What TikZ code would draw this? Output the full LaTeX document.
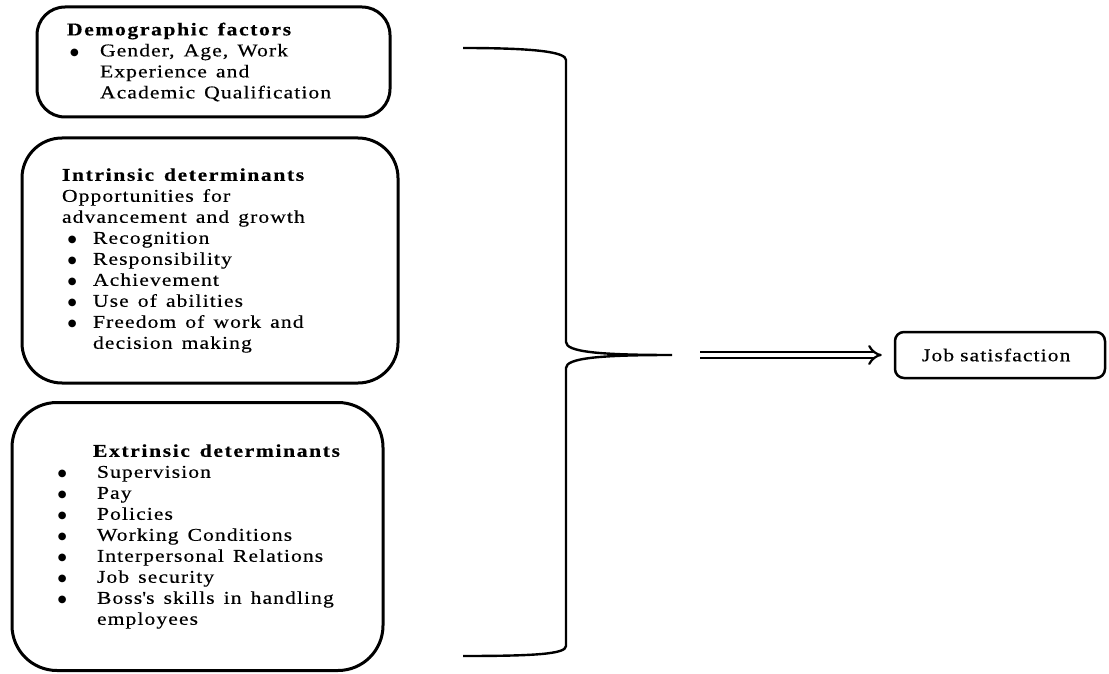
\documentclass[tikz,border=0pt]{standalone}
\usepackage{fontspec}
\setmainfont{Liberation Serif}[FakeStretch=1.2,LetterSpace=6,WordSpace=1.4,FakeBold=0.4]
\newfontfamily\dotfont{DejaVu Sans}
\usetikzlibrary{arrows.meta,positioning,calc}

% bullet line: bullet offset, text offset, text
\newcommand{\bitem}[3]{\par\noindent\hangindent=#2\hangafter=1%
  \hspace*{#1}\makebox[\dimexpr#2-#1\relax][l]{\raisebox{1pt}{\dotfont\fontsize{10}{12}\selectfont\symbol{"25CF}}}#3}
% left padding and width of a box's text block
\newcommand{\padded}[3]{\hspace*{#1}\parbox[c]{#2}{\raggedright #3}}
% box heading
\newcommand{\boxhead}[1]{{\bfseries\addfontfeature{LetterSpace=9}#1}}
\newcommand{\straightapos}{{\addfontfeature{Ligatures=TeXOff}'}}

\tikzset{
  factorbox/.style={draw, line width=3pt, inner sep=0pt,
    font=\fontsize{18}{21}\selectfont},
  jobbox/.style={draw, line width=2.5pt, rounded corners=9pt, inner sep=0pt,
    minimum width=210pt, minimum height=46pt, text width=156pt,
    font=\fontsize{18}{21}\selectfont},
  bracepath/.style={line width=2.4pt},
  leadarrow/.style={double, double distance=4.5pt, line width=2.2pt,
    -{Implies[length=8pt]}, shorten >=12pt},
}

\begin{document}
\begin{tikzpicture}[x=1pt,y=-1pt]
  \useasboundingbox (0,0) rectangle (1109,674);

  % factor boxes
  \node[factorbox, minimum width=353pt, minimum height=110pt,
        rounded corners=28pt] (demog) at (213.5,62) {%
    \padded{30pt}{323pt}{\boxhead{Demographic factors}%
      \bitem{3pt}{33pt}{Gender, Age, Work\newline Experience and\newline
        Academic Qualification}}};

  \node[factorbox, minimum width=376pt, minimum height=245pt,
        rounded corners=40pt] (intrin) at (210,260.5) {%
    \padded{40pt}{336pt}{\boxhead{Intrinsic determinants}\par
      Opportunities for\newline advancement and growth%
      \bitem{6pt}{31pt}{Recognition}%
      \bitem{6pt}{31pt}{Responsibility}%
      \bitem{6pt}{31pt}{Achievement}%
      \bitem{6pt}{31pt}{Use of abilities}%
      \bitem{6pt}{31pt}{Freedom of work and\newline decision making}}};

  \node[factorbox, minimum width=371pt, minimum height=268pt,
        rounded corners=45pt] (extrin) at (197.5,536.5) {%
    \padded{46pt}{325pt}{\hspace*{35pt}\boxhead{Extrinsic determinants}%
      \bitem{0pt}{39pt}{Supervision}%
      \bitem{0pt}{39pt}{Pay}%
      \bitem{0pt}{39pt}{Policies}%
      \bitem{0pt}{39pt}{Working Conditions}%
      \bitem{0pt}{39pt}{Interpersonal Relations}%
      \bitem{0pt}{39pt}{Job security}%
      \bitem{0pt}{39pt}{Boss\straightapos s skills in handling\newline employees}}};

  % result
  \node[jobbox] (job) at (1000,355) {Job satisfaction};

  % brace
  \coordinate (btop) at (463,48);
  \coordinate (bbot) at (463,656);
  \coordinate (btip) at (672,355);
  \coordinate (arrstart) at (700,355);
  \draw[bracepath] (btop) .. controls (535,48) and (566,52) .. (566,60)
    -- (566,342) .. controls (566,352) and (600,355) .. (btip)
    .. controls (600,355) and (566,358) .. (566,368)
    -- (566,646) .. controls (566,654) and (535,656) .. (bbot);

  \draw[leadarrow] (arrstart) -- (job.west);
\end{tikzpicture}
\end{document}
